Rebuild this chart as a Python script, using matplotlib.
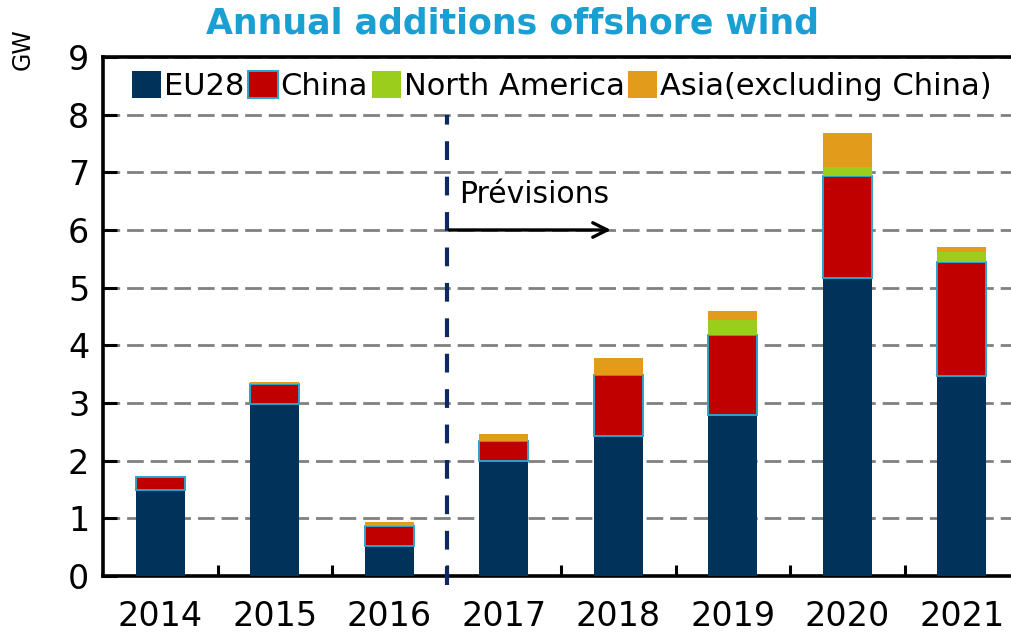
import numpy as np
import matplotlib
matplotlib.use('Agg')
import matplotlib.pyplot as plt
from matplotlib.ticker import FixedLocator

plt.rcParams['font.family'] = ['DejaVu Sans']

years = ['2014', '2015', '2016', '2017', '2018', '2019', '2020', '2021']
eu28 = [1.49, 2.98, 0.52, 2.00, 2.42, 2.80, 5.16, 3.46]
china = [0.23, 0.35, 0.35, 0.34, 1.07, 1.38, 1.78, 1.98]
north_america = [0.00, 0.00, 0.00, 0.00, 0.00, 0.26, 0.16, 0.17]
asia = [0.00, 0.03, 0.07, 0.12, 0.29, 0.16, 0.59, 0.09]

series = [('EU28', eu28, '#00325a'), ('China', china, '#c00000'),
          ('North America', north_america, '#9acd1c'),
          ('Asia(excluding China)', asia, '#e39b1b')]

fig = plt.figure(figsize=(10.11, 6.33), dpi=100)
ax = fig.add_axes([0.102, 0.09, 0.898, 0.82])

x = np.arange(len(years))
w = 0.43
bottom = np.zeros(len(years))
for name, vals, col in series:
    vals = np.array(vals)
    if name == 'China':
        ax.bar(x, vals, w, bottom=bottom, color=col, edgecolor='#2ba3cc', lw=1.4, label=name, zorder=3)
    else:
        ax.bar(x, vals, w, bottom=bottom, color=col, lw=0, label=name, zorder=3)
    bottom += vals

ax.set_xlim(-0.5, 7.43)
ax.set_ylim(0, 9)
ax.set_yticks(range(10))
ax.grid(True, axis='y', color='#808080', ls=(0, (6, 2.5)), lw=2.0, zorder=0)

# category labels at centres, tick marks at boundaries
ax.set_xticks(x)
ax.set_xticklabels(years, fontsize=24)
ax.tick_params(axis='x', length=0, pad=17)
ax.xaxis.set_minor_locator(FixedLocator(np.arange(0.5, 7.5, 1)))
ax.tick_params(axis='x', which='minor', direction='in', length=8, width=2.2)
ax.tick_params(axis='y', direction='in', length=10, width=2.2, labelsize=24, pad=10)

for s in ['left', 'bottom', 'top']:
    ax.spines[s].set_linewidth(2.6)
ax.spines['right'].set_visible(False)

# forecast separator
ax.plot([2.5, 2.5], [-0.15, 8.0], color='#0c2a5e', lw=3.0, ls=(0, (4.5, 4)),
        clip_on=False, zorder=4)
ax.annotate('', xy=(3.96, 6.0), xytext=(2.5, 6.0),
            arrowprops=dict(arrowstyle='->', color='black', lw=2.4, mutation_scale=26),
            zorder=5)
ax.text(2.61, 6.62, 'Prévisions', fontsize=21.5, ha='left', va='center', zorder=5)

leg = ax.legend(loc='upper left', bbox_to_anchor=(0.012, 1.008), ncol=4, frameon=False,
                fontsize=22, handlelength=0.95, handleheight=1.0, handletextpad=0.1,
                columnspacing=0.12, borderaxespad=0.2)

fig.text(0.507, 0.963, 'Annual additions offshore wind', fontsize=25, fontweight='bold',
         color='#1a9fd3', ha='center', va='center')
fig.text(0.022, 0.922, 'GW', fontsize=17, rotation=90, ha='center', va='center')

fig.savefig('out.png', dpi=100)
